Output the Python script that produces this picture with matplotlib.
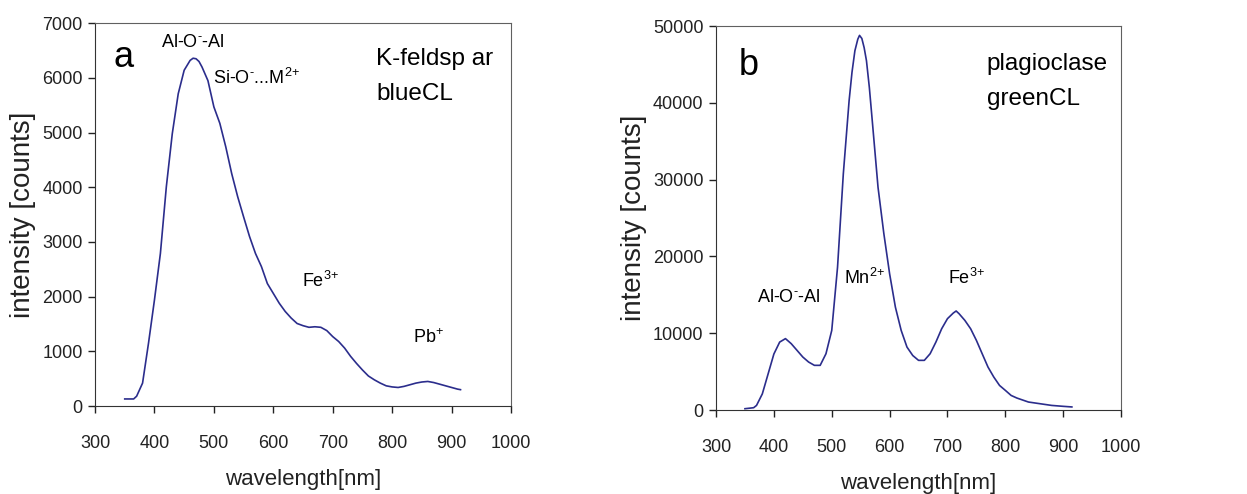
import matplotlib
matplotlib.use("Agg")
import matplotlib.pyplot as plt
import numpy as np

plt.rcParams['font.family'] = ['Liberation Sans', 'DejaVu Sans']
plt.rcParams['mathtext.fontset'] = 'custom'
plt.rcParams['mathtext.rm'] = 'Liberation Sans'
plt.rcParams['mathtext.it'] = 'Liberation Sans'

# Panel a: K-feldspar, blue CL
wl_a = [350, 365, 370, 380, 390, 400, 410, 420, 430, 440, 450, 460, 465, 470, 475, 480, 490,
        500, 510, 520, 530, 540, 550, 560, 570, 580, 590, 600, 610, 620, 630, 640,
        650, 660, 670, 680, 690, 700, 710, 720, 730, 740, 750, 760, 770, 780, 790,
        800, 810, 820, 830, 840, 850, 860, 870, 880, 890, 900, 910, 915]
int_a = [130, 130, 180, 420, 1150, 1940, 2790, 4010, 4980, 5710, 6140, 6320, 6360, 6350, 6300, 6200, 5950,
         5470, 5170, 4740, 4250, 3830, 3460, 3100, 2790, 2550, 2240, 2060, 1880, 1730, 1610, 1510,
         1470, 1440, 1450, 1440, 1380, 1270, 1180, 1060, 910, 780, 660, 550, 480, 420, 370,
         350, 340, 360, 390, 420, 440, 450, 430, 400, 370, 340, 310, 300]

# Panel b: plagioclase, green CL
wl_b = [350, 365, 370, 380, 390, 400, 410, 420, 430, 440, 450, 460, 470, 480, 490,
        500, 510, 520, 530, 535, 540, 545, 548, 552, 556, 560, 565, 570, 580, 590, 600, 610, 620, 630,
        640, 650, 660, 670, 680, 690, 700, 710, 715, 720, 730, 740, 750, 760, 770,
        780, 790, 800, 810, 820, 840, 860, 880, 900, 915]
int_b = [170, 300, 600, 2100, 4700, 7300, 8850, 9300, 8640, 7770, 6900, 6250, 5820, 5820, 7330,
         10370, 18600, 30770, 40300, 44000, 46800, 48300, 48800, 48400, 47200, 45500, 42000, 37700, 29000, 23000, 17750, 13400, 10370, 8200,
         7100, 6470, 6470, 7330, 8850, 10590, 11900, 12630, 12900, 12550, 11680, 10590, 9070, 7330, 5600,
         4300, 3200, 2560, 1900, 1560, 1040, 820, 600, 480, 400]

line_color = '#2b2d8c'

fig = plt.figure(figsize=(12.47, 4.94), dpi=100)
ax_a = fig.add_axes([0.0762, 0.178, 0.3336, 0.775])
ax_b = fig.add_axes([0.5742, 0.170, 0.3248, 0.777])


def style_axes(ax, ymax, ystep):
    ax.set_xlim(300, 1000)
    ax.set_ylim(0, ymax)
    ax.set_xticks(np.arange(300, 1001, 100))
    ax.set_yticks(np.arange(0, ymax + 1, ystep))
    ax.tick_params(direction='out', length=5, width=1, labelsize=13, colors='#222222')
    ax.tick_params(axis='x', pad=16)
    ax.tick_params(axis='y', pad=4)
    for side in ['top', 'right']:
        ax.spines[side].set_color('#606060')
    for side in ['left', 'bottom']:
        ax.spines[side].set_color('#333333')
    ax.set_xlabel('wavelength[nm]', fontsize=16, labelpad=12, color='#222222')
    ax.set_ylabel('intensity [counts]', fontsize=20, labelpad=4, color='#222222')


def ion(base, sup):
    return base + r'$^{\text{' + sup + '}}$'


ax_a.plot(wl_a, int_a, color=line_color, lw=1.2)
style_axes(ax_a, 7000, 1000)
ax_a.text(331, 6200, 'a', fontsize=26)
ax_a.text(465, 6560, ion('Al-O', '-') + '-Al', fontsize=13, ha='center')
ax_a.text(498, 5890, ion('Si-O', '-') + ion('...M', '2+'), fontsize=13)
ax_a.text(773, 6230, 'K-feldsp ar', fontsize=17.5)
ax_a.text(773, 5600, 'blueCL', fontsize=17.5)
ax_a.text(648, 2180, ion('Fe', '3+'), fontsize=13)
ax_a.text(835, 1150, ion('Pb', '+'), fontsize=13)

ax_b.plot(wl_b, int_b, color=line_color, lw=1.2)
style_axes(ax_b, 50000, 10000)
ax_b.text(339, 43580, 'b', fontsize=26)
ax_b.text(768, 44230, 'plagioclase', fontsize=17.5)
ax_b.text(768, 39670, 'greenCL', fontsize=17.5)
ax_b.text(371, 14060, ion('Al-O', '-') + '-Al', fontsize=13)
ax_b.text(521, 16360, ion('Mn', '2+'), fontsize=13)
ax_b.text(701, 16360, ion('Fe', '3+'), fontsize=13)

fig.savefig('out.png', dpi=100)
